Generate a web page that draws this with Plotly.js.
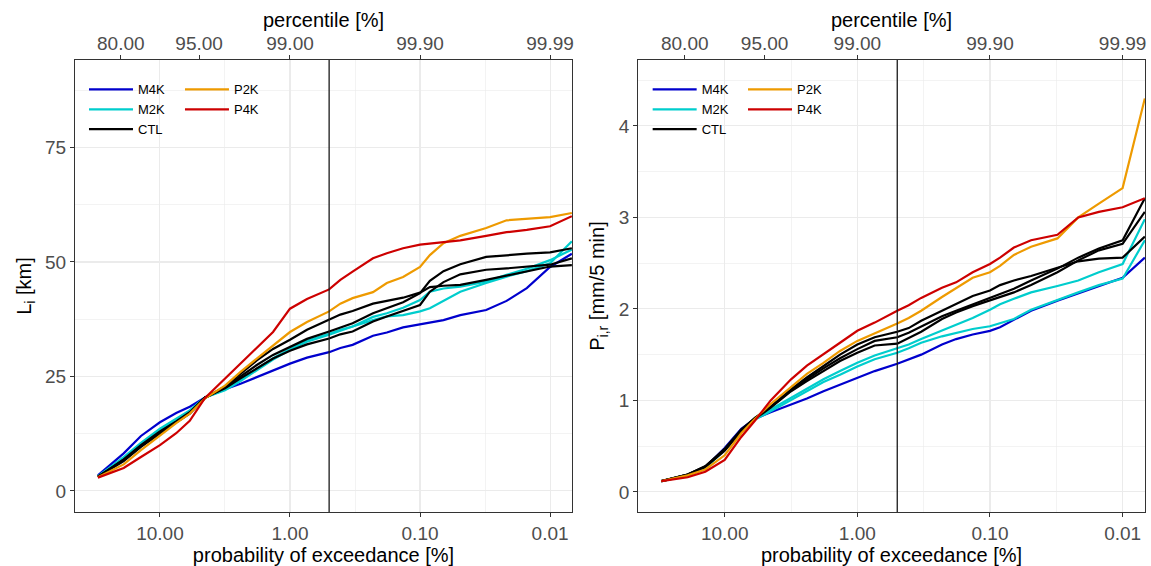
<!DOCTYPE html>
<html><head><meta charset="utf-8">
<script src="https://cdn.plot.ly/plotly-3.0.1.min.js"></script>
<style>html,body{margin:0;padding:0;background:#fff}</style>
</head><body><div id="chart" style="width:1151px;height:566px"></div>
<script>
// probability of exceedance [%]
const prob = [30, 19, 14, 10, 7.5, 5.9, 4.5, 3.16, 2.4, 1.8, 1.35, 1, 0.74, 0.5, 0.41, 0.33, 0.23, 0.18, 0.135, 0.1, 0.084, 0.066, 0.049, 0.031, 0.0216, 0.0151, 0.01, 0.0068];

// left panel: L_i [km]
const lenM4K  = [3.4, 8.2, 12.0, 15.0, 17.0, 18.4, 20.4, 22.2, 23.4, 24.9, 26.3, 27.8, 29.1, 30.3, 31.2, 31.9, 33.9, 34.6, 35.7, 36.4, 36.8, 37.3, 38.4, 39.5, 41.5, 44.3, 48.9, 51.8];
const lenM2Ka = [3.2, 7.4, 10.5, 13.6, 15.8, 17.6, 20.4, 22.0, 24.0, 26.3, 28.7, 30.8, 32.6, 34.1, 35.0, 35.9, 37.3, 38.1, 38.4, 39.2, 39.9, 41.5, 43.5, 45.4, 46.8, 48.0, 49.7, 54.5];
const lenM2Kb = [3.2, 7.1, 10.2, 13.3, 15.5, 17.4, 20.4, 22.2, 24.3, 26.6, 29.0, 31.0, 32.8, 34.3, 35.2, 35.9, 38.0, 38.8, 40.0, 41.7, 43.5, 44.2, 44.6, 45.7, 47.2, 48.5, 50.4, 52.7];
const lenCTLa = [3.1, 6.5, 9.6, 12.6, 15.0, 16.9, 20.3, 22.8, 25.6, 28.5, 31.0, 33.0, 35.2, 37.4, 38.5, 39.3, 40.9, 41.5, 42.2, 43.3, 44.5, 44.8, 45.0, 46.1, 47.0, 47.9, 49.0, 49.3];
const lenCTLb = [3.1, 6.8, 9.8, 12.8, 15.0, 17.0, 20.4, 22.6, 25.0, 27.5, 29.7, 31.5, 33.2, 34.8, 35.7, 36.6, 38.8, 39.9, 41.2, 43.2, 45.9, 48.0, 49.5, 51.1, 51.5, 51.8, 52.1, 53.0];
const lenCTLc = [3.0, 6.9, 10.0, 13.0, 15.2, 17.2, 20.4, 22.4, 24.6, 26.8, 28.9, 30.6, 32.0, 33.3, 34.2, 34.8, 37.0, 38.1, 39.3, 40.6, 43.5, 45.6, 47.3, 48.3, 48.6, 48.9, 49.4, 50.8];
const lenP2K  = [3.0, 5.8, 8.9, 12.1, 14.8, 16.9, 20.2, 23.0, 26.0, 28.9, 31.8, 34.7, 36.9, 39.2, 40.9, 42.1, 43.4, 45.4, 46.7, 48.9, 51.5, 54.1, 55.7, 57.4, 59.1, 59.4, 59.8, 60.7];
const lenP4K  = [2.9, 5.0, 7.4, 10.0, 12.6, 15.3, 20.3, 24.5, 27.8, 31.4, 34.7, 39.8, 41.9, 44.0, 46.1, 47.9, 50.8, 51.9, 53.0, 53.8, 54.0, 54.3, 54.7, 55.7, 56.5, 57.0, 57.8, 60.0];

// right panel: P_i,r [mm/5 min]
const priM4K  = [0.117, 0.18, 0.27, 0.48, 0.69, 0.80, 0.87, 0.95, 1.02, 1.10, 1.17, 1.24, 1.32, 1.40, 1.45, 1.50, 1.61, 1.67, 1.72, 1.76, 1.80, 1.88, 1.98, 2.09, 2.17, 2.25, 2.34, 2.56];
const priM2Ka = [0.117, 0.18, 0.26, 0.46, 0.67, 0.80, 0.90, 1.03, 1.13, 1.23, 1.32, 1.41, 1.49, 1.57, 1.61, 1.67, 1.76, 1.83, 1.90, 1.99, 2.05, 2.11, 2.18, 2.25, 2.31, 2.40, 2.49, 2.98];
const priM2Kb = [0.117, 0.18, 0.26, 0.46, 0.67, 0.79, 0.88, 1.00, 1.10, 1.20, 1.28, 1.37, 1.45, 1.52, 1.57, 1.63, 1.70, 1.74, 1.78, 1.81, 1.84, 1.89, 1.99, 2.10, 2.18, 2.26, 2.33, 2.75];
const priCTLa = [0.117, 0.19, 0.28, 0.47, 0.68, 0.81, 0.93, 1.12, 1.25, 1.38, 1.50, 1.61, 1.69, 1.75, 1.79, 1.87, 1.98, 2.05, 2.14, 2.20, 2.26, 2.31, 2.36, 2.45, 2.52, 2.55, 2.56, 2.79];
const priCTLb = [0.117, 0.19, 0.28, 0.46, 0.67, 0.81, 0.93, 1.11, 1.23, 1.35, 1.46, 1.56, 1.65, 1.69, 1.74, 1.81, 1.92, 1.98, 2.05, 2.12, 2.16, 2.22, 2.31, 2.44, 2.56, 2.66, 2.75, 3.21];
const priCTLc = [0.117, 0.19, 0.27, 0.45, 0.66, 0.80, 0.92, 1.10, 1.21, 1.32, 1.43, 1.52, 1.60, 1.62, 1.68, 1.75, 1.89, 1.96, 2.03, 2.09, 2.13, 2.18, 2.26, 2.40, 2.53, 2.64, 2.71, 3.06];
const priP2K  = [0.117, 0.18, 0.245, 0.40, 0.64, 0.80, 0.96, 1.15, 1.29, 1.41, 1.54, 1.65, 1.73, 1.84, 1.90, 1.98, 2.13, 2.23, 2.34, 2.40, 2.47, 2.59, 2.68, 2.77, 3.00, 3.15, 3.32, 4.30];
const priP4K  = [0.117, 0.16, 0.22, 0.35, 0.60, 0.78, 1.00, 1.23, 1.38, 1.51, 1.63, 1.76, 1.85, 1.98, 2.04, 2.12, 2.23, 2.29, 2.40, 2.49, 2.56, 2.67, 2.75, 2.81, 3.00, 3.06, 3.11, 3.21];

// ticks and ranges
const probTicks = [10, 1, 0.1, 0.01];
const probLabels = ['10.00', '1.00', '0.10', '0.01'];
const probMinor = [3.1623, 0.31623, 0.031623];
const pctTicks = [20, 5, 1, 0.1, 0.01];
const pctLabels = ['80.00', '95.00', '99.00', '99.90', '99.99'];
const lenTicks = [0, 25, 50, 75];
const lenMinor = [12.5, 37.5, 62.5, 87.5];
const lenRange = [-4.6, 94.1];
const priTicks = [0, 1, 2, 3, 4];
const priMinor = [0.5, 1.5, 2.5, 3.5, 4.5];
const priRange = [-0.22, 4.72];
const thresholdProb = 0.5;

const colors = {M4K: '#0000CD', M2K: '#00CDCD', CTL: '#000000', P2K: '#EE9A00', P4K: '#CD0000'};
const FONT = 'Liberation Sans, Arial, Helvetica, sans-serif';

const traces = [];
function add(y, name, xa, ya, leg, show) {
  traces.push({x: prob, y: y, type: 'scatter', mode: 'lines', name: name,
    xaxis: xa, yaxis: ya, legend: leg, showlegend: show, legendgroup: name + xa,
    line: {color: colors[name], width: 2.2}, hoverinfo: 'skip'});
}
// left
add(lenM4K, 'M4K', 'x', 'y', 'legend', true);
add(lenM2Ka, 'M2K', 'x', 'y', 'legend', true);
add(lenM2Kb, 'M2K', 'x', 'y', 'legend', false);
add(lenCTLa, 'CTL', 'x', 'y', 'legend', true);
add(lenCTLb, 'CTL', 'x', 'y', 'legend', false);
add(lenCTLc, 'CTL', 'x', 'y', 'legend', false);
add(lenP2K, 'P2K', 'x', 'y', 'legend2', true);
add(lenP4K, 'P4K', 'x', 'y', 'legend2', true);
// right
add(priM4K, 'M4K', 'x2', 'y2', 'legend3', true);
add(priM2Ka, 'M2K', 'x2', 'y2', 'legend3', true);
add(priM2Kb, 'M2K', 'x2', 'y2', 'legend3', false);
add(priCTLa, 'CTL', 'x2', 'y2', 'legend3', true);
add(priCTLb, 'CTL', 'x2', 'y2', 'legend3', false);
add(priCTLc, 'CTL', 'x2', 'y2', 'legend3', false);
add(priP2K, 'P2K', 'x2', 'y2', 'legend4', true);
add(priP4K, 'P4K', 'x2', 'y2', 'legend4', true);
// threshold (0.5 % exceedance) lines, placed on the top percentile axes
traces.push({x: [thresholdProb, thresholdProb], y: lenRange, type: 'scatter', mode: 'lines',
  xaxis: 'x3', yaxis: 'y', showlegend: false, hoverinfo: 'skip', line: {color: '#1A1A1A', width: 1.3}});
traces.push({x: [thresholdProb, thresholdProb], y: priRange, type: 'scatter', mode: 'lines',
  xaxis: 'x4', yaxis: 'y2', showlegend: false, hoverinfo: 'skip', line: {color: '#1A1A1A', width: 1.3}});

const xRange = [Math.log10(45), Math.log10(0.00678)];
const tickFont = {family: FONT, size: 19, color: '#4D4D4D'};
const titleFont = {family: FONT, size: 20, color: '#000000'};

function bottomAxis(domain, anchor) {
  return {domain: domain, anchor: anchor, type: 'log', range: xRange,
    tickmode: 'array', tickvals: probTicks, ticktext: probLabels,
    ticks: 'outside', ticklen: 4, tickwidth: 1, tickcolor: '#333333',
    showline: true, linecolor: '#333333', linewidth: 1, mirror: true,
    showgrid: true, gridcolor: '#EBEBEB', gridwidth: 1.1, zeroline: false,
    tickfont: tickFont,
    title: {text: 'probability of exceedance [%]', font: titleFont, standoff: 4},
    minor: {tickmode: 'array', tickvals: probMinor, showgrid: true, gridcolor: '#EBEBEB', gridwidth: 0.6, ticks: ''}};
}
function topAxis(over, anchor) {
  return {overlaying: over, anchor: anchor, side: 'top', type: 'log', range: xRange,
    tickmode: 'array', tickvals: pctTicks, ticktext: pctLabels,
    ticks: 'outside', ticklen: 4, tickwidth: 1, tickcolor: '#333333', ticklabelstandoff: -3,
    showline: false, showgrid: false, zeroline: false, tickfont: tickFont,
    title: {text: 'percentile [%]', font: titleFont, standoff: 0}};
}
function yAxis(anchor, range, tv, minor, title) {
  return {anchor: anchor, range: range, tickmode: 'array', tickvals: tv,
    ticks: 'outside', ticklen: 4, tickwidth: 1, tickcolor: '#333333',
    showline: true, linecolor: '#333333', linewidth: 1, mirror: true,
    showgrid: true, gridcolor: '#EBEBEB', gridwidth: 1.1, zeroline: false,
    tickfont: tickFont, title: {text: title, font: titleFont, standoff: 8},
    minor: {tickmode: 'array', tickvals: minor, showgrid: true, gridcolor: '#EBEBEB', gridwidth: 0.6, ticks: ''}};
}
function legend(x, y) {
  return {x: x, y: y, xanchor: 'left', yanchor: 'top', bgcolor: 'rgba(0,0,0,0)',
    borderwidth: 0, font: {family: FONT, size: 13, color: '#000000'}, itemwidth: 44,
    orientation: 'v', tracegroupgap: 0, itemclick: false, itemdoubleclick: false};
}

const layout = {
  width: 1151, height: 566,
  margin: {l: 75, r: 6, t: 60, b: 54, pad: 0},
  paper_bgcolor: '#FFFFFF', plot_bgcolor: '#FFFFFF',
  font: {family: FONT},
  showlegend: true,
  xaxis: bottomAxis([0, 0.4645], 'y'),
  xaxis2: bottomAxis([0.5262, 1], 'y2'),
  xaxis3: topAxis('x', 'y'),
  xaxis4: topAxis('x2', 'y2'),
  yaxis: yAxis('x', lenRange, lenTicks, lenMinor, 'L<sub>i</sub> [km]'),
  yaxis2: yAxis('x2', priRange, priTicks, priMinor, 'P<sub>i,r</sub> [mm/5 min]'),
  legend: legend(0.0084, 0.968),
  legend2: legend(0.0981, 0.968),
  legend3: legend(0.5352, 0.968),
  legend4: legend(0.6243, 0.968)
};

Plotly.newPlot('chart', traces, layout, {staticPlot: true, displayModeBar: false});
</script></body></html>
